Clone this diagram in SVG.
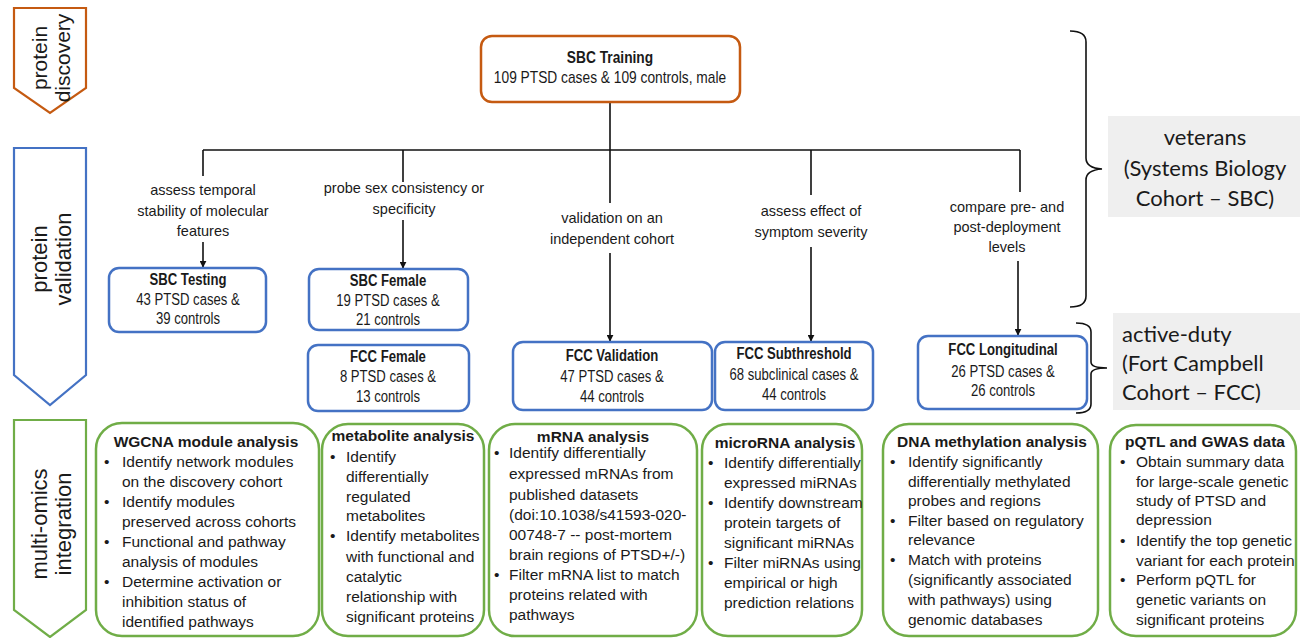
<svg xmlns="http://www.w3.org/2000/svg" width="1300" height="638" viewBox="0 0 1300 638">
<defs>
<marker id="ah" viewBox="0 0 10 10" refX="9" refY="5" markerWidth="7" markerHeight="7" markerUnits="userSpaceOnUse" orient="auto">
<path d="M0,0 L10,5 L0,10 z" fill="#111"/>
</marker>
<style>
.bg{fill:#fff}
.pent{fill:#fff;stroke-width:2.2}
.side{font-family:"Liberation Sans",Arial,sans-serif;font-size:21px;fill:#1a1a1a;text-anchor:middle}
.top{fill:#fff;stroke:#C55A11;stroke-width:2.5}
.blue{fill:#fff;stroke:#4472C4;stroke-width:2.5}
.green{fill:#fff;stroke:#70AD47;stroke-width:2.5}
.t{font-family:"Liberation Sans",Arial,sans-serif;font-size:16px;fill:#1a1a1a;text-anchor:middle}
.b{font-weight:bold}
.lbl{font-family:"Liberation Sans",Arial,sans-serif;font-size:14.5px;fill:#1a1a1a;text-anchor:middle}
.m{font-family:"Liberation Sans",Arial,sans-serif;font-size:15.5px;fill:#1a1a1a}
.mt{font-family:"Liberation Sans",Arial,sans-serif;font-size:15.5px;font-weight:bold;fill:#1a1a1a;text-anchor:middle}
.ln{stroke:#111;stroke-width:1.6;fill:none}
.br{stroke:#111;stroke-width:1.6;fill:none}
.gray{fill:#EFEFEF}
.coh{font-family:Lato,"Open Sans",sans-serif;font-size:22px;fill:#1a1a1a}
</style>
</defs>
<rect class="bg" x="0" y="0" width="1300" height="638"/>

<g id="stage-discovery">
<polygon class="pent" stroke="#C55A11" points="14,8 86,8 86,88 50,113 14,88"/>
<text class="side" transform="translate(50,58) rotate(-90)"><tspan x="0" y="-3">protein</tspan><tspan x="0" y="20">discovery</tspan></text>
</g>
<g id="stage-validation">
<polygon class="pent" stroke="#4472C4" points="14,148 86,148 86,375 50,405 14,375"/>
<text class="side" transform="translate(50,259) rotate(-90)" style="font-size:22px"><tspan x="0" y="-3">protein</tspan><tspan x="0" y="21">validation</tspan></text>
</g>
<g id="stage-integration">
<polygon class="pent" stroke="#70AD47" points="14,420 86,420 86,610 50,637 14,610"/>
<text class="side" transform="translate(50,524) rotate(-90)" style="font-size:22px"><tspan x="0" y="-3">multi-omics</tspan><tspan x="0" y="21">integration</tspan></text>
</g>

<g id="connectors">
<path class="ln" d="M610,102 V150 M203,150 H1020"/>
<path class="ln" d="M203,150 V176 M403,150 V182 M610,150 V203 M811,150 V195 M1020,150 V192"/>
<line class="ln" x1="203" y1="242" x2="203" y2="267" marker-end="url(#ah)"/>
<line class="ln" x1="403" y1="220" x2="403" y2="268" marker-end="url(#ah)"/>
<line class="ln" x1="610" y1="253" x2="610" y2="341" marker-end="url(#ah)"/>
<line class="ln" x1="811" y1="247" x2="811" y2="341" marker-end="url(#ah)"/>
<line class="ln" x1="1018" y1="261" x2="1018" y2="335" marker-end="url(#ah)"/>
</g>

<g id="labels">
<text class="lbl"><tspan x="203" y="195">assess temporal</tspan><tspan x="203" y="216">stability of molecular</tspan><tspan x="203" y="236">features</tspan></text>
<text class="lbl"><tspan x="404" y="193">probe sex consistency or</tspan><tspan x="404" y="214">specificity</tspan></text>
<text class="lbl"><tspan x="612" y="223">validation on an</tspan><tspan x="612" y="244">independent cohort</tspan></text>
<text class="lbl"><tspan x="811" y="216">assess effect of</tspan><tspan x="811" y="237">symptom severity</tspan></text>
<text class="lbl"><tspan x="1007" y="212">compare pre- and</tspan><tspan x="1007" y="232">post-deployment</tspan><tspan x="1007" y="252">levels</tspan></text>
</g>

<g id="sbc-training">
<rect class="top" x="481" y="36" width="259" height="66" rx="11"/>
<text class="t" transform="translate(610,0) scale(0.86,1)"><tspan class="b" x="0" y="63">SBC Training</tspan><tspan x="0" y="83">109 PTSD cases &amp; 109 controls, male</tspan></text>
</g>

<g id="sbc-testing">
<rect class="blue" x="109" y="268" width="157" height="64" rx="10"/>
<text class="t" transform="translate(188,0) scale(0.82,1)"><tspan class="b" x="0" y="285">SBC Testing</tspan><tspan x="0" y="305">43 PTSD cases &amp;</tspan><tspan x="0" y="324">39 controls</tspan></text>
</g>
<g id="sbc-female">
<rect class="blue" x="309" y="269" width="159" height="61" rx="10"/>
<text class="t" transform="translate(388,0) scale(0.82,1)"><tspan class="b" x="0" y="286">SBC Female</tspan><tspan x="0" y="306">19 PTSD cases &amp;</tspan><tspan x="0" y="325">21 controls</tspan></text>
</g>
<g id="fcc-female">
<rect class="blue" x="308" y="345" width="161" height="66" rx="10"/>
<text class="t" transform="translate(388,0) scale(0.82,1)"><tspan class="b" x="0" y="362">FCC Female</tspan><tspan x="0" y="382">8 PTSD cases &amp;</tspan><tspan x="0" y="402">13 controls</tspan></text>
</g>
<g id="fcc-validation">
<rect class="blue" x="513" y="342" width="199" height="68" rx="10"/>
<text class="t" transform="translate(612,0) scale(0.82,1)"><tspan class="b" x="0" y="361">FCC Validation</tspan><tspan x="0" y="382">47 PTSD cases &amp;</tspan><tspan x="0" y="402">44 controls</tspan></text>
</g>
<g id="fcc-subthreshold">
<rect class="blue" x="715" y="342" width="158" height="68" rx="10"/>
<text class="t" transform="translate(794,0) scale(0.82,1)"><tspan class="b" x="0" y="359">FCC Subthreshold</tspan><tspan x="0" y="380">68 subclinical cases &amp;</tspan><tspan x="0" y="400">44 controls</tspan></text>
</g>
<g id="fcc-longitudinal">
<rect class="blue" x="918" y="336" width="169" height="73" rx="10"/>
<text class="t" transform="translate(1003,0) scale(0.82,1)"><tspan class="b" x="0" y="355">FCC Longitudinal</tspan><tspan x="0" y="377">26 PTSD cases &amp;</tspan><tspan x="0" y="396">26 controls</tspan></text>
</g>

<g id="cohort-veterans">
<path class="br" d="M1070,31 Q1086,31 1086,42 V158 Q1086,168 1102,169 Q1086,170 1086,180 V296 Q1086,307 1070,307"/>
<rect class="gray" x="1108" y="116" width="192" height="101"/>
<text class="coh" text-anchor="middle"><tspan x="1205" y="145">veterans</tspan><tspan x="1205" y="176">(Systems Biology</tspan><tspan x="1205" y="206">Cohort – SBC)</tspan></text>
</g>
<g id="cohort-active">
<path class="br" d="M1076,323 Q1091,323 1091,332 V362 Q1091,368 1107,368 Q1091,368 1091,374 V404 Q1091,413 1076,413"/>
<rect class="gray" x="1113" y="313" width="187" height="97"/>
<text class="coh"><tspan x="1122" y="342">active-duty</tspan><tspan x="1122" y="371">(Fort Campbell</tspan><tspan x="1122" y="400">Cohort – FCC)</tspan></text>
</g>

<g id="wgcna">
<rect class="green" x="96" y="423" width="223" height="213" rx="26"/>
<text class="mt" x="206" y="447">WGCNA module analysis</text>
<text class="m"><tspan x="104" y="467">•</tspan><tspan x="122" y="467">Identify network modules</tspan><tspan x="122" y="487">on the discovery cohort</tspan><tspan x="104" y="507">•</tspan><tspan x="122" y="507">Identify modules</tspan><tspan x="122" y="527">preserved across cohorts</tspan><tspan x="104" y="547">•</tspan><tspan x="122" y="547">Functional and pathway</tspan><tspan x="122" y="567">analysis of modules</tspan><tspan x="104" y="587">•</tspan><tspan x="122" y="587">Determine activation or</tspan><tspan x="122" y="607">inhibition status of</tspan><tspan x="122" y="627">identified pathways</tspan></text>
</g>
<g id="metabolite">
<rect class="green" x="322" y="424" width="162" height="212" rx="26"/>
<text class="mt" x="403" y="441">metabolite analysis</text>
<text class="m"><tspan x="330" y="462">•</tspan><tspan x="346" y="462">Identify</tspan><tspan x="346" y="482">differentially</tspan><tspan x="346" y="502">regulated</tspan><tspan x="346" y="521">metabolites</tspan><tspan x="330" y="541">•</tspan><tspan x="346" y="541">Identify metabolites</tspan><tspan x="346" y="562">with functional and</tspan><tspan x="346" y="582">catalytic</tspan><tspan x="346" y="602">relationship with</tspan><tspan x="346" y="622">significant proteins</tspan></text>
</g>
<g id="mrna">
<rect class="green" x="489" y="424" width="208" height="212" rx="26"/>
<text class="mt" x="593" y="442">mRNA analysis</text>
<text class="m"><tspan x="494" y="458">•</tspan><tspan x="509" y="458">Identify differentially</tspan><tspan x="509" y="479">expressed mRNAs  from</tspan><tspan x="509" y="500">published datasets</tspan><tspan x="509" y="520">(doi:10.1038/s41593-020-</tspan><tspan x="509" y="540">00748-7 -- post-mortem</tspan><tspan x="509" y="560">brain regions of PTSD+/-)</tspan><tspan x="494" y="580">•</tspan><tspan x="509" y="580">Filter mRNA list to match</tspan><tspan x="509" y="600">proteins related with</tspan><tspan x="509" y="620">pathways</tspan></text>
</g>
<g id="microrna">
<rect class="green" x="702" y="424" width="160" height="212" rx="26"/>
<text class="mt" x="785" y="448">microRNA analysis</text>
<text class="m"><tspan x="708" y="468">•</tspan><tspan x="724" y="468">Identify differentially</tspan><tspan x="724" y="488">expressed miRNAs</tspan><tspan x="708" y="508">•</tspan><tspan x="724" y="508">Identify downstream</tspan><tspan x="724" y="528">protein targets of</tspan><tspan x="724" y="548">significant miRNAs</tspan><tspan x="708" y="568">•</tspan><tspan x="724" y="568">Filter miRNAs using</tspan><tspan x="724" y="588">empirical or high</tspan><tspan x="724" y="608">prediction relations</tspan></text>
</g>
<g id="dna-methylation">
<rect class="green" x="883" y="424" width="215" height="212" rx="26"/>
<text class="mt" x="992" y="447">DNA methylation analysis</text>
<text class="m"><tspan x="890" y="467">•</tspan><tspan x="908" y="467">Identify significantly</tspan><tspan x="908" y="487">differentially methylated</tspan><tspan x="908" y="506">probes and regions</tspan><tspan x="890" y="526">•</tspan><tspan x="908" y="526">Filter based on regulatory</tspan><tspan x="908" y="545">relevance</tspan><tspan x="890" y="565">•</tspan><tspan x="908" y="565">Match with proteins</tspan><tspan x="908" y="585">(significantly associated</tspan><tspan x="908" y="605">with pathways) using</tspan><tspan x="908" y="625">genomic databases</tspan></text>
</g>
<g id="pqtl-gwas">
<rect class="green" x="1110" y="425" width="186" height="211" rx="26"/>
<text class="mt" x="1205" y="447">pQTL and GWAS data</text>
<text class="m"><tspan x="1120" y="467">•</tspan><tspan x="1136" y="467">Obtain summary data</tspan><tspan x="1136" y="487">for large-scale genetic</tspan><tspan x="1136" y="506">study of PTSD and</tspan><tspan x="1136" y="525">depression</tspan><tspan x="1120" y="546">•</tspan><tspan x="1136" y="546">Identify the top genetic</tspan><tspan x="1136" y="566">variant for each protein</tspan><tspan x="1120" y="585">•</tspan><tspan x="1136" y="585">Perform pQTL for</tspan><tspan x="1136" y="605">genetic variants on</tspan><tspan x="1136" y="625">significant proteins</tspan></text>
</g>
</svg>
